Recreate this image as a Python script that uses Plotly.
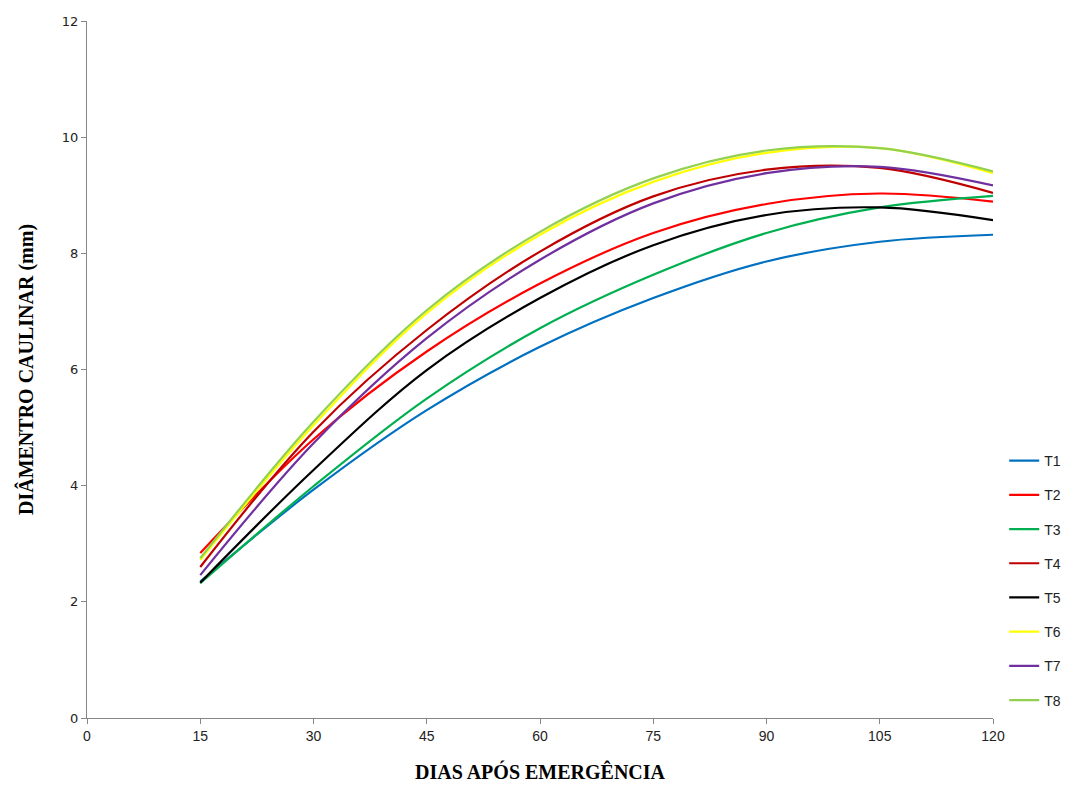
import plotly.graph_objects as go

days = [15, 30, 45, 60, 75, 90, 105, 120]

T1 = [2.35, 3.93, 5.30, 6.39, 7.23, 7.86, 8.20, 8.32]
T2 = [2.84, 4.80, 6.31, 7.48, 8.35, 8.85, 9.03, 8.89]
T3 = [2.32, 3.99, 5.50, 6.71, 7.63, 8.35, 8.79, 8.99]
T4 = [2.60, 4.93, 6.68, 8.03, 8.98, 9.44, 9.47, 9.04]
T5 = [2.33, 4.27, 5.99, 7.23, 8.14, 8.66, 8.79, 8.57]
T6 = [2.72, 5.04, 6.97, 8.32, 9.23, 9.73, 9.81, 9.38]
T7 = [2.46, 4.73, 6.54, 7.89, 8.86, 9.38, 9.49, 9.17]
T8 = [2.75, 5.10, 7.02, 8.37, 9.29, 9.77, 9.81, 9.41]

series_names = ["T1", "T2", "T3", "T4", "T5", "T6", "T7", "T8"]
series_values = [T1, T2, T3, T4, T5, T6, T7, T8]
colors = ["#0070C0", "#FF0000", "#00B050", "#C00000", "#000000", "#FFFF00", "#7030A0", "#92D050"]

x_ticks = [0, 15, 30, 45, 60, 75, 90, 105, 120]
y_ticks = [0, 2, 4, 6, 8, 10, 12]

fig = go.Figure()
for name, vals, col in zip(series_names, series_values, colors):
    fig.add_trace(go.Scatter(
        x=days, y=vals, mode="lines", name=name,
        line=dict(color=col, width=2.2, shape="spline", smoothing=1.0),
        legendgroup=name,
    ))

fig.update_layout(
    width=1074, height=799,
    paper_bgcolor="white", plot_bgcolor="white",
    margin=dict(l=87, r=81, t=21, b=81, autoexpand=False),
    showlegend=True,
    legend=dict(
        xref="container", yref="container",
        x=0.935, y=0.443, xanchor="left", yanchor="top",
        font=dict(family="Liberation Sans", size=14, color="#222"),
        tracegroupgap=13, itemwidth=30,
        bgcolor="rgba(0,0,0,0)",
    ),
    xaxis=dict(
        range=[0, 120], tickvals=x_ticks, ticktext=[str(v) for v in x_ticks],
        showgrid=False, zeroline=False, showline=True, linecolor="#868686", linewidth=1,
        ticks="outside", ticklen=5, tickcolor="#868686",
        tickfont=dict(family="Liberation Sans", size=14, color="#222"),
        title=dict(text="<b>DIAS APÓS EMERGÊNCIA</b>", standoff=22,
                   font=dict(family="Liberation Serif", size=20, color="#000")),
    ),
    yaxis=dict(
        range=[0, 12], tickvals=y_ticks, ticktext=[str(v) for v in y_ticks],
        showgrid=False, zeroline=False, showline=True, linecolor="#868686", linewidth=1,
        ticks="outside", ticklen=5, tickcolor="#868686",
        tickfont=dict(family="DejaVu Sans", size=13, color="#222"),
        title=dict(text="<b>DIÂMENTRO CAULINAR (mm)</b>", standoff=22,
                   font=dict(family="Liberation Serif", size=20, color="#000")),
    ),
)

fig.write_html("out.html")
